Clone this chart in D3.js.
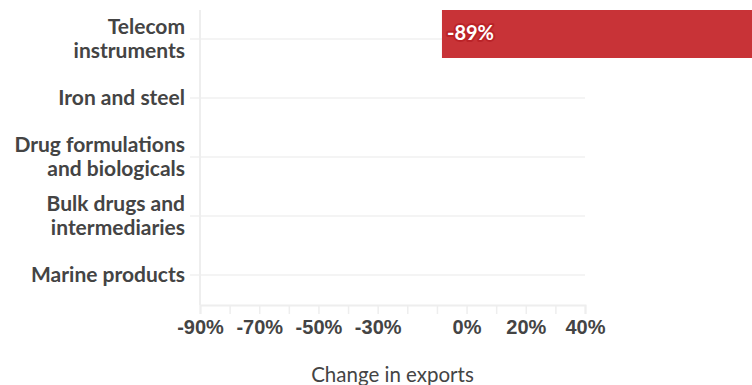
<!DOCTYPE html>
<html>
<head>
<meta charset="utf-8">
<script src="https://cdn.jsdelivr.net/npm/d3@7"></script>
<style>
  body { margin: 0; background: #fff; }
  svg { display: block; font-family: Lato, "Open Sans", sans-serif; }
</style>
</head>
<body>
<div id="chart"></div>
<script>
// canvas size
const FRAME_WIDTH = 752;
const FRAME_HEIGHT = 385;
const MARGINS = {left: 200, right: 167, top: 10, bottom: 80};

// categories, two lines each where wrapped
const categories = ["Telecom instruments", "Iron and steel", "Drug formulations and biologicals",
                    "Bulk drugs and intermediaries", "Marine products"];
const labelLines = [["Telecom", "instruments"], ["Iron and steel"], ["Drug formulations", "and biologicals"],
                    ["Bulk drugs and", "intermediaries"], ["Marine products"]];

// value labels and where the bar shows up (in % units, as drawn in the picture)
const values = [-89, null, null, null, null];
const barStart = [-8.3, null, null, null, null];
const barEnd = [100, null, null, null, null];

// x ticks, only some labelled
const xTicks = [-90, -80, -70, -60, -50, -40, -30, -20, -10, 0, 10, 20, 30, 40];
const xTickLabels = [-90, -70, -50, -30, 0, 20, 40];

const VIS_WIDTH = FRAME_WIDTH - MARGINS.left - MARGINS.right;
const VIS_HEIGHT = FRAME_HEIGHT - MARGINS.top - MARGINS.bottom;

const svg = d3.select("#chart").append("svg")
    .attr("width", FRAME_WIDTH)
    .attr("height", FRAME_HEIGHT);

const X_SCALE = d3.scaleLinear().domain([-90, 40]).range([MARGINS.left, MARGINS.left + VIS_WIDTH]);
// rows: step 59px, bar 48px
const STEP = 59;
const Y_SCALE = d3.scaleBand().domain(categories)
    .range([MARGINS.top + 5, MARGINS.top + 5 + STEP * (categories.length - 11 / STEP)])
    .paddingInner(11 / STEP).paddingOuter(0);

const rowY = (c) => Y_SCALE(c) + Y_SCALE.bandwidth() / 2;
const axisY = MARGINS.top + VIS_HEIGHT;

// gridlines
svg.append("g").selectAll("line")
    .data(categories).enter().append("line")
    .attr("x1", MARGINS.left - 10).attr("x2", X_SCALE(40))
    .attr("y1", (d) => rowY(d)).attr("y2", (d) => rowY(d))
    .attr("stroke", "#f4f4f4").attr("stroke-width", 2);

// left axis line
svg.append("line")
    .attr("x1", MARGINS.left).attr("x2", MARGINS.left)
    .attr("y1", MARGINS.top).attr("y2", axisY)
    .attr("stroke", "#eeeeee").attr("stroke-width", 2);

// bottom axis
const xAxis = svg.append("g")
    .attr("transform", "translate(0," + axisY + ")")
    .call(d3.axisBottom(X_SCALE).tickValues(xTicks).tickSize(9).tickPadding(6)
        .tickFormat((d) => xTickLabels.includes(d) ? d + "%" : ""));
xAxis.select(".domain").attr("stroke", "#eeeeee").attr("stroke-width", 2);
xAxis.selectAll(".tick line").attr("stroke", "#eeeeee").attr("stroke-width", 1.5);
xAxis.selectAll(".tick text")
    .attr("fill", "#444").attr("font-size", "20px").attr("font-weight", "bold")
    .attr("dy", "0.72em");

// axis title
svg.append("text")
    .attr("x", (X_SCALE(-90) + X_SCALE(40)) / 2)
    .attr("y", 382)
    .attr("text-anchor", "middle")
    .attr("fill", "#444")
    .attr("font-size", "20.5px")
    .text("Change in exports");

// category labels
const yl = svg.append("g").selectAll("text")
    .data(categories).enter().append("text")
    .attr("x", 185)
    .attr("text-anchor", "end")
    .attr("fill", "#444")
    .attr("font-size", "21px")
    .attr("font-weight", "bold");
yl.each(function(d, i) {
    const lines = labelLines[i];
    const el = d3.select(this);
    lines.forEach((t, j) => {
        el.append("tspan")
            .attr("x", 185)
            .attr("y", rowY(d) + 7 + (j - (lines.length - 1) / 2) * 23.5)
            .text(t);
    });
});

// bars
const barData = categories.map((c, i) => ({c: c, v: values[i], s: barStart[i], e: barEnd[i]}))
    .filter((d) => d.v !== null);

svg.append("g").selectAll("rect")
    .data(barData).enter().append("rect")
    .attr("x", (d) => X_SCALE(d.s))
    .attr("width", (d) => X_SCALE(d.e) - X_SCALE(d.s))
    .attr("y", (d) => Y_SCALE(d.c) - 5)
    .attr("height", Y_SCALE.bandwidth())
    .attr("fill", "#c83337");

// value labels with halo
svg.append("g").selectAll("text")
    .data(barData).enter().append("text")
    .attr("x", (d) => X_SCALE(d.s) + 5)
    .attr("y", (d) => rowY(d.c) + 1)
    .attr("font-size", "20px")
    .attr("font-weight", "bold")
    .attr("fill", "#fff")
    .attr("stroke", "#bb2328").attr("stroke-width", 4)
    .attr("paint-order", "stroke")
    .attr("stroke-linejoin", "round")
    .text((d) => d.v + "%");
</script>
</body>
</html>
